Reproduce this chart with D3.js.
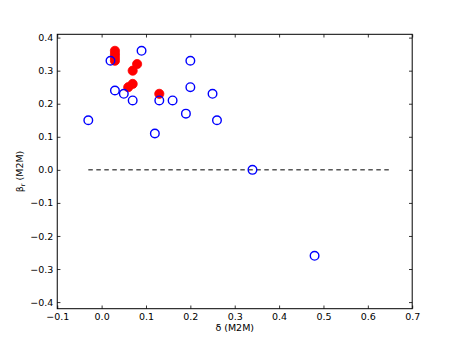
<!DOCTYPE html>
<html>
<head>
<meta charset="utf-8">
<script src="https://d3js.org/d3.v7.min.js"></script>
<style>
body{margin:0;background:#fff;}
text{font-family:"DejaVu Sans",sans-serif;}
</style>
</head>
<body>
<svg id="chart" width="458" height="343"></svg>
<script>
// blue open circles
var blueX = [-0.03, 0.02, 0.03, 0.05, 0.07, 0.09, 0.12, 0.13, 0.16, 0.19, 0.20, 0.20, 0.25, 0.26, 0.34, 0.48];
var blueY = [0.15, 0.33, 0.24, 0.23, 0.21, 0.36, 0.11, 0.21, 0.21, 0.17, 0.33, 0.25, 0.23, 0.15, 0.00, -0.26];
// red filled circles
var redX = [0.03, 0.03, 0.03, 0.03, 0.08, 0.07, 0.07, 0.06, 0.13];
var redY = [0.36, 0.35, 0.34, 0.33, 0.32, 0.30, 0.26, 0.25, 0.23];
// zero reference line
var zeroLineX = [-0.03, 0.65];
var xTicks = [-0.1, 0.0, 0.1, 0.2, 0.3, 0.4, 0.5, 0.6, 0.7];
var yTicks = [-0.4, -0.3, -0.2, -0.1, 0.0, 0.1, 0.2, 0.3, 0.4];

var pLeft = 57.25, pRight = 412.2, pTop = 34.3, pBottom = 308.7;
var svg = d3.select('#chart');

var x = d3.scaleLinear().domain([-0.1, 0.7]).range([pLeft, pRight]);
var y = d3.scaleLinear().domain([-0.42, 0.41]).range([pBottom, pTop]);

var fmt = function(d){ return d3.format('.1f')(d).replace('-', '\u2212'); };

//dashed zero line
svg.append('path')
	.attr('d', d3.line()(zeroLineX.map(function(v){ return [x(v), y(0)]; })))
	.attr('stroke', 'black')
	.attr('stroke-width', 1)
	.attr('stroke-dasharray', '4.5,3.5')
	.attr('fill', 'none');

//red points
svg.selectAll('.red').data(redX).enter().append('circle')
	.attr('class', 'red')
	.attr('cx', function(d){ return x(d); })
	.attr('cy', function(d, i){ return y(redY[i]); })
	.attr('r', 4.6)
	.attr('fill', '#ff0000')
	.attr('stroke', '#ff0000')
	.attr('stroke-width', 0.8);

//blue points
svg.selectAll('.blue').data(blueX).enter().append('circle')
	.attr('class', 'blue')
	.attr('cx', function(d){ return x(d); })
	.attr('cy', function(d, i){ return y(blueY[i]); })
	.attr('r', 4.3)
	.attr('fill', 'none')
	.attr('stroke', '#0000ff')
	.attr('stroke-width', 1.4);

//axes, ticks inward on all sides
var tl = 3.2;
svg.append('g').attr('transform', 'translate(0,' + pBottom + ')')
	.call(d3.axisBottom(x).tickValues(xTicks).tickSize(-tl).tickPadding(5).tickFormat(fmt));
svg.append('g').attr('transform', 'translate(0,' + pTop + ')')
	.call(d3.axisTop(x).tickValues(xTicks).tickSize(-tl).tickFormat(''));
svg.append('g').attr('transform', 'translate(' + pLeft + ',0)')
	.call(d3.axisLeft(y).tickValues(yTicks).tickSize(-tl).tickPadding(4).tickFormat(fmt));
svg.append('g').attr('transform', 'translate(' + pRight + ',0)')
	.call(d3.axisRight(y).tickValues(yTicks).tickSize(-tl).tickFormat(''));

svg.selectAll('.domain').remove();
svg.selectAll('.tick line').attr('stroke', 'black').attr('stroke-width', 0.8);
svg.selectAll('.tick text').attr('font-size', 9.5).attr('fill', 'black')
	.style('font-family', '"DejaVu Sans", sans-serif');

//frame
svg.append('rect')
	.attr('x', pLeft).attr('y', pTop)
	.attr('width', pRight - pLeft).attr('height', pBottom - pTop)
	.attr('fill', 'none').attr('stroke', 'black').attr('stroke-width', 1);

//labels
svg.append('text')
	.attr('x', (pLeft + pRight) / 2).attr('y', 331)
	.attr('text-anchor', 'middle').attr('font-size', 9.5)
	.text('\u03b4 (M2M)');

var yl = svg.append('text')
	.attr('transform', 'translate(23,' + ((pTop + pBottom) / 2) + ') rotate(-90)')
	.attr('text-anchor', 'middle').attr('font-size', 9.5);
yl.append('tspan').text('\u03b2');
yl.append('tspan').attr('font-size', 6.5).attr('dy', 2).text('r');
yl.append('tspan').attr('dy', -2).text(' (M2M)');
</script>
</body>
</html>
